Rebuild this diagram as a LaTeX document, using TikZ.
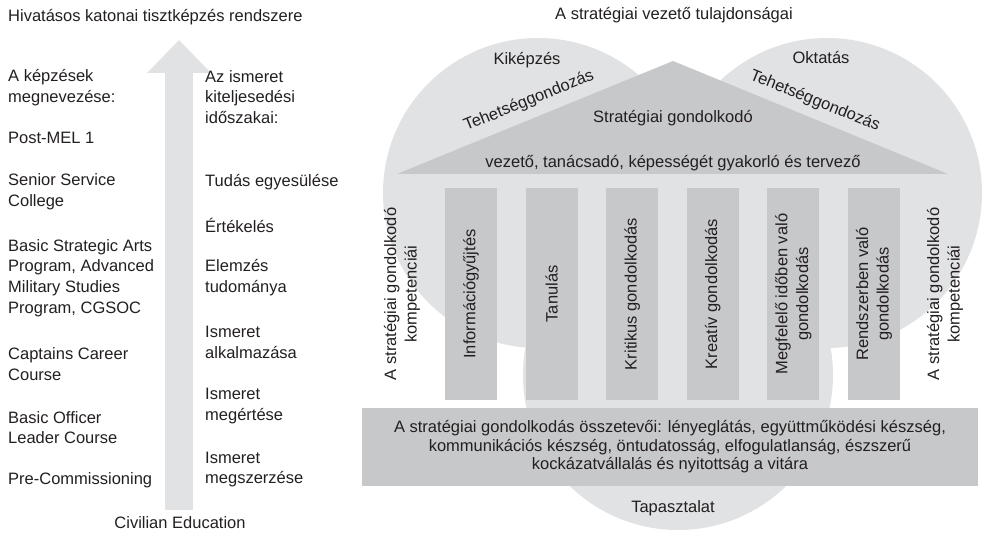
\documentclass[tikz,border=0pt]{standalone}
\usepackage{fontspec}
\setmainfont{Liberation Sans}
\usetikzlibrary{arrows.meta}

\definecolor{vennfill}{RGB}{225,226,228}
\definecolor{housefill}{RGB}{199,200,202}
\definecolor{ink}{RGB}{35,31,32}

\tikzset{
  txt/.style={font=\fontsize{16.5}{20.7}\selectfont, text=ink, inner sep=0pt},
  listitem/.style={txt, anchor=west, align=left},
  venn/.style={circle, fill=vennfill, minimum size=310pt, inner sep=0pt},
  pillar/.style={txt, fill=housefill, rotate=90, minimum width=212pt, minimum height=52pt, align=center},
  sidetxt/.style={txt, rotate=90, align=center}
}

\begin{document}
\begin{tikzpicture}[x=1pt,y=-1pt]
\useasboundingbox (0,0) rectangle (982,534);

\node[txt, anchor=west] (titleL) at (8,17) {Hivatásos katonai tisztképzés rendszere};
\node[txt] (titleR) at (674,15) {A stratégiai vezető tulajdonságai};

\coordinate (arrS) at (179,510);
\coordinate (arrE) at (179,40);
\draw[vennfill, line width=28pt, -{Triangle[length=33pt,width=62pt]}] (arrS) -- (arrE);
\node[txt] (civil) at (180,523) {Civilian Education};

\node[listitem] (k0) at (8,87.5) {A képzések\\megnevezése:};
\node[listitem] (k1) at (8,138) {Post-MEL 1};
\node[listitem] (k2) at (8,192) {Senior Service\\College};
\node[listitem] (k3) at (8,278) {Basic Strategic Arts\\Program, Advanced\\Military Studies\\Program, CGSOC};
\node[listitem] (k4) at (8,364) {Captains Career\\Course};
\node[listitem] (k5) at (8,427.5) {Basic Officer\\Leader Course};
\node[listitem] (k6) at (8,480) {Pre-Commissioning};

\node[listitem] (i0) at (205,97) {Az ismeret\\kiteljesedési\\időszakai:};
\node[listitem] (i1) at (205,182) {Tudás egyesülése};
\node[listitem] (i2) at (205,225) {Értékelés};
\node[listitem] (i3) at (205,277.5) {Elemzés\\tudománya};
\node[listitem] (i4) at (205,342.5) {Ismeret\\alkalmazása};
\node[listitem] (i5) at (205,406) {Ismeret\\megértése};
\node[listitem] (i6) at (205,469.5) {Ismeret\\megszerzése};

\node[venn] (kikepzes) at (538,193) {};
\node[venn] (oktatas) at (827,193) {};
\node[venn] (tapasztalat) at (678,375) {};

\coordinate (roofL) at (397,174);
\coordinate (roofT) at (673,61);
\coordinate (roofR) at (948,174);
\fill[housefill] (roofL) -- (roofT) -- (roofR) -- cycle;

\node[txt] (kiklbl) at (527,60) {Kiképzés};
\node[txt] (oktlbl) at (821,58) {Oktatás};
\node[txt, rotate=22] (tehL) at (529,101) {Tehetséggondozás};
\node[txt, rotate=-22] (tehR) at (815,101) {Tehetséggondozás};
\node[txt] (strat) at (673,118) {Stratégiai gondolkodó};
\node[txt] (szerep) at (673,163) {vezető, tanácsadó, képességét gyakorló és tervező};

\foreach \i/\txt in {0/{Információgyűjtés}, 1/{Tanulás}, 2/{Kritikus gondolkodás},
  3/{Kreatív gondolkodás}, 4/{Megfelelő időben való\\gondolkodás}, 5/{Rendszerben való\\gondolkodás}}
  \node[pillar] (col\i) at ({471+80.6*\i},294) {\txt};

\node[sidetxt] (kompL) at (402,294) {A stratégiai gondolkodó\\kompetenciái};
\node[sidetxt] (kompR) at (945,294) {A stratégiai gondolkodó\\kompetenciái};

\node[txt, font=\fontsize{16.5}{18.5}\selectfont, fill=housefill, minimum width=616pt, minimum height=78pt, align=center] (base) at (670,447)
  {A stratégiai gondolkodás összetevői: lényeglátás, együttműködési készség,\\kommunikációs készség, öntudatosság, elfogulatlanság, észszerű\\kockázatvállalás és nyitottság a vitára};
\node[txt] (taplbl) at (673,508) {Tapasztalat};
\end{tikzpicture}
\end{document}
